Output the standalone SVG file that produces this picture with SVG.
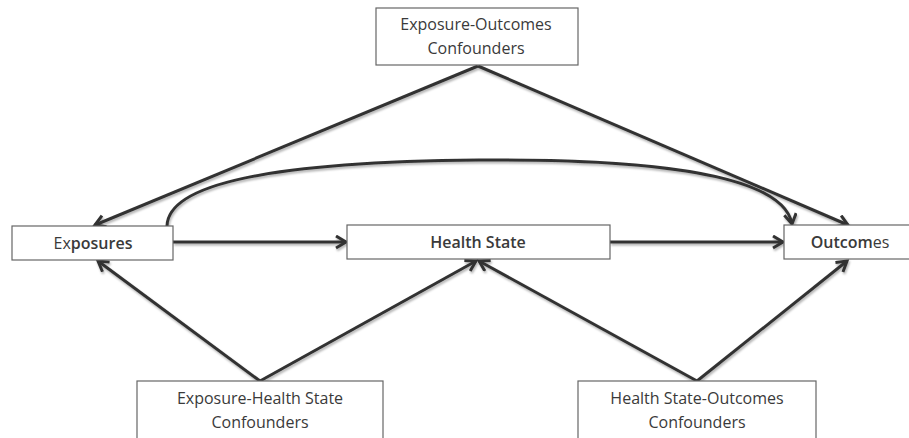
<svg xmlns="http://www.w3.org/2000/svg" width="909" height="438" viewBox="0 0 909 438">
<style>
.box{fill:#fff;stroke:#666;stroke-width:1.2}
.t{font-family:"Open Sans","Liberation Sans",sans-serif;font-size:16px;fill:#3a3a3a;text-anchor:middle}
.b{font-weight:600}
.c{fill:none;stroke:#333;stroke-width:3}
</style>
<defs>
<filter id="sh" x="-10%" y="-10%" width="120%" height="130%">
<feDropShadow dx="1" dy="2" stdDeviation="1.3" flood-color="#000" flood-opacity="0.3"/>
</filter>
<marker id="ah" markerUnits="userSpaceOnUse" markerWidth="16" markerHeight="16" refX="11" refY="7" orient="auto">
<path d="M1,1 L11,7 L1,13" fill="none" stroke="#333" stroke-width="3"/>
</marker>
</defs>
<g id="connectors" filter="url(#sh)">
<path class="c" d="M478,66 L95,225" marker-end="url(#ah)"/>
<path class="c" d="M478,66 L848,225" marker-end="url(#ah)"/>
<path class="c" d="M167,226 C168,185 265,162 479,160 C700,158 785,185 792,224" marker-end="url(#ah)"/>
<path class="c" d="M173,242 L346,242" marker-end="url(#ah)"/>
<path class="c" d="M610,242 L783,242" marker-end="url(#ah)"/>
<path class="c" d="M260,381 L98,261" marker-end="url(#ah)"/>
<path class="c" d="M260,381 L476,261" marker-end="url(#ah)"/>
<path class="c" d="M697,381 L479,261" marker-end="url(#ah)"/>
<path class="c" d="M697,381 L847,261" marker-end="url(#ah)"/>
</g>
<g id="eo-confounders">
<rect class="box" x="376" y="8" width="202" height="57"/>
<text class="t" x="476" y="30">Exposure-Outcomes</text>
<text class="t" x="476" y="54">Confounders</text>
</g>
<g id="exposures">
<rect class="box" x="12" y="226" width="161" height="34"/>
<text class="t" x="93" y="248.5">Ex<tspan class="b">posures</tspan></text>
</g>
<g id="health-state">
<rect class="box" x="347" y="225" width="263" height="34"/>
<text class="t b" x="478" y="248">Health State</text>
</g>
<g id="outcomes">
<rect class="box" x="784" y="225" width="140" height="34"/>
<text class="t" x="850" y="248"><tspan class="b">Outcom</tspan>es</text>
</g>
<g id="ehs-confounders">
<rect class="box" x="137" y="381" width="246" height="70"/>
<text class="t" x="260" y="404">Exposure-Health State</text>
<text class="t" x="260" y="428">Confounders</text>
</g>
<g id="hso-confounders">
<rect class="box" x="578" y="381" width="238" height="70"/>
<text class="t" x="697" y="404">Health State-Outcomes</text>
<text class="t" x="697" y="428">Confounders</text>
</g>
</svg>
